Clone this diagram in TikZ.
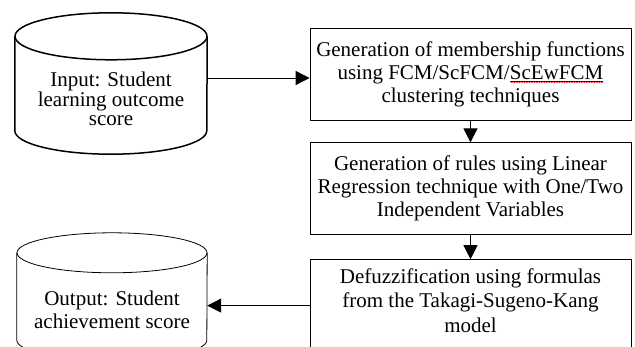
\documentclass[tikz,border=0pt]{standalone}
\usepackage{fontspec}
\setmainfont{Liberation Serif}
\usetikzlibrary{positioning,arrows.meta,decorations.pathmorphing}

\newcommand\squig[1]{\tikz[baseline=(sq.base)]{\node[inner sep=0pt,outer sep=0pt,minimum size=0pt,draw=none] (sq) {#1};
	\draw[line width=0.4pt] ([yshift=-2pt]sq.base west) -- ([yshift=-2pt]sq.base east);
	\draw[red,line width=0.5pt,decorate,decoration={snake,amplitude=0.5pt,segment length=2.5pt}] ([yshift=-3pt]sq.base west) -- ([yshift=-3pt]sq.base east);}}

\begin{document}
\begin{tikzpicture}[x=1pt,y=1pt,
	stepbox/.style={draw,line width=0.8pt,minimum width=321pt,minimum height=92pt,inner sep=0pt,align=center,font=\fontsize{21}{23}\selectfont},
	store/.style={inner sep=0pt},
	arr/.style={-{Triangle[length=14pt,width=14pt]},line width=0.8pt}]
	\useasboundingbox (0,0) rectangle (635,-347);
	% data stores
	\node[store,minimum width=192pt,minimum height=141pt] (in) at (111,-83.5) {};
	\draw[line width=1.5pt] ([yshift=-23.5pt]in.north) ellipse[x radius=96pt,y radius=23.5pt];
	\draw[line width=1.5pt] ([yshift=-23.5pt]in.north west) -- ([yshift=23.5pt]in.south west) arc[start angle=180,end angle=360,x radius=96pt,y radius=23.5pt] -- ([yshift=-23.5pt]in.north east);
	\node[align=center,font=\fontsize{21}{19.5}\selectfont] (intext) at (111,-99) {Input: Student\\learning outcome\\score};
	\node[store,minimum width=190pt,minimum height=127pt] (out) at (112,-296.5) {};
	\draw[line width=0.8pt] ([yshift=-20pt]out.north) ellipse[x radius=95pt,y radius=20pt];
	\draw[line width=0.8pt] ([yshift=-20pt]out.north west) -- ([yshift=20pt]out.south west) arc[start angle=180,end angle=360,x radius=95pt,y radius=20pt] -- ([yshift=-20pt]out.north east);
	\node[align=center,font=\fontsize{21}{23}\selectfont] (outtext) at (112,-310) {Output: Student\\achievement score};
	% steps
	\node[stepbox] (gen) at (470.5,-74) {Generation of membership functions\\using FCM/ScFCM/\squig{ScEwFCM}\\clustering techniques};
	\node[stepbox,below=22pt of gen] (rules) {Generation of rules using Linear\\Regression technique with One/Two\\Independent Variables};
	\node[stepbox,below=24pt of rules,font=\fontsize{21}{24.5}\selectfont] (defuzz) {Defuzzification using formulas\\from the Takagi-Sugeno-Kang\\model\\[-14pt]};
	\coordinate[below=4pt of gen.west] (g1);
	\draw[arr] (in.east |- g1) -- (g1);
	\draw[arr] (gen) -- (rules);
	\draw[arr] (rules) -- (defuzz);
	\draw[arr] (defuzz.west) -- (out.east |- defuzz.west);
\end{tikzpicture}
\end{document}
